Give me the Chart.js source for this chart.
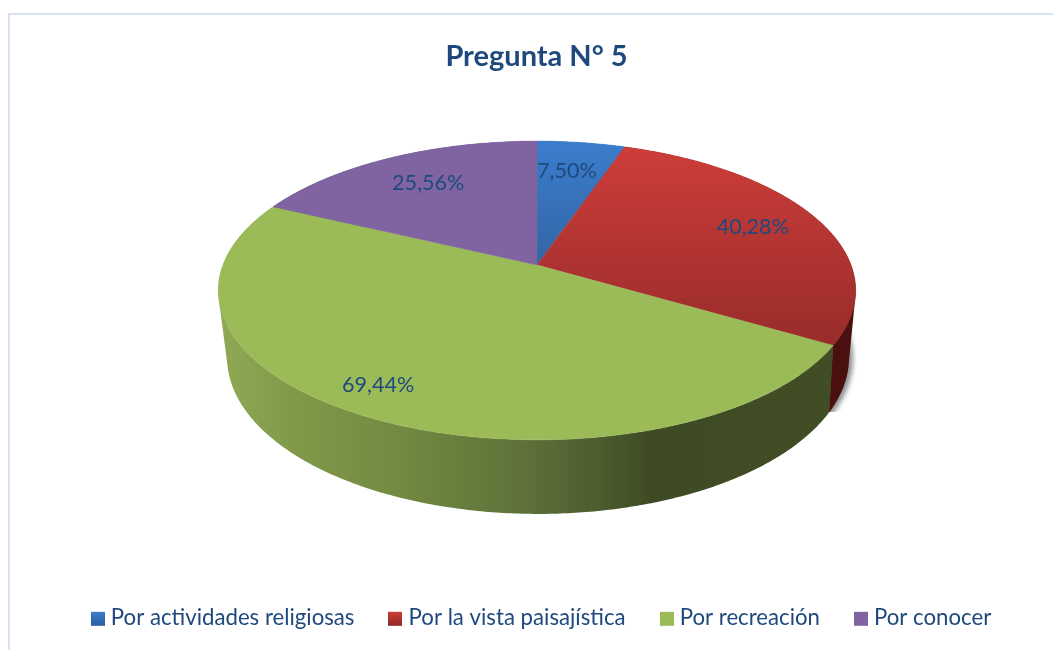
<!DOCTYPE html>
<html>
<head>
<meta charset="utf-8">
<style>
html,body{margin:0;padding:0;background:#fff;overflow:hidden}
#wrap{position:relative;width:1053px;height:650px}
</style>
<script src="https://cdn.jsdelivr.net/npm/chart.js@4"></script>
</head>
<body>
<div id="wrap"><canvas id="c" width="1053" height="650"></canvas></div>
<script>
const titleText = 'Pregunta N° 5';
const categories = ['Por actividades religiosas', 'Por la vista paisajística', 'Por recreación', 'Por conocer'];
const values = [7.50, 40.28, 69.44, 25.56];
const valueLabels = ['7,50%', '40,28%', '69,44%', '25,56%'];

const FONT = 'Lato, Carlito, sans-serif';
const INK = '#1f497d';
const labelRadius = [0.74, 0.77, 0.85, 0.73];
const labelTurn = [-0.02, -0.01, 0.06, 0.01];
const LEGEND_PAD = 39, LEGEND_FONT = 22.2;

// perspective view of the disc
const topDisc = {x: 537, y: 265, w: 314, h: 145, k: 0.1705};
const baseDisc = {x: 538, y: 327.5, w: 305.3, h: 151, k: 0.19};
function project(d, a, r) {
  const u = Math.cos(a) * r, v = -Math.sin(a) * r, f = 1 + d.k * v;
  return [d.x + d.w * u / f, d.y - d.h * v / f];
}
function linear(ctx, x0, y0, x1, y1, stops) {
  const g = ctx.createLinearGradient(x0, y0, x1, y1);
  stops.forEach(s => g.addColorStop(s[0], s[1]));
  return g;
}
const faceStops = [
  [[0, '#3b7dcd'], [1, '#3365a4']],
  [[0, '#cd3d39'], [1, '#982c2a']],
  [[0, '#9bbb59'], [1, '#9bbb59']],
  [[0, '#8064a2'], [1, '#8064a2']]
];
const wallStops = [
  [[0, '#2c4f80'], [1, '#24426c']],
  [[0, '#4a1212'], [1, '#4a1010']],
  [[0, '#8fa955'], [0.13, '#7f9848'], [0.28, '#728a42'], [0.47, '#5f7339'], [0.6, '#4c5c2e'], [0.68, '#3e4a24'], [1, '#414e25']],
  [[0, '#54406c'], [1, '#54406c']]
];
const legendStops = [
  [[0, '#3b7dcd'], [1, '#2c5f9e']],
  [[0, '#cd3d39'], [1, '#92292a']],
  [[0, '#9bbb59'], [1, '#9bbb59']],
  [[0, '#8064a2'], [1, '#8064a2']]
];
function swatch(stops) {
  const cv = document.createElement('canvas');
  cv.width = 14; cv.height = 19;
  const c = cv.getContext('2d');
  c.fillStyle = linear(c, 0, 3, 0, 17, stops);
  c.fillRect(0, 3, 14, 14);
  return cv;
}

const perspectivePie = {
  id: 'perspectivePie',
  afterLayout(chart) {
    chart.legend.left += 7; chart.legend.right += 7;
    chart.legend.top = 607.2 - LEGEND_PAD; chart.legend.bottom = 650;
  },
  beforeDraw(chart) {
    const ctx = chart.ctx;
    ctx.save();
    ctx.fillStyle = '#ffffff';
    ctx.fillRect(0, 0, chart.width, chart.height);
    ctx.fillStyle = '#d8e3f2';
    ctx.fillRect(8, 13, chart.width - 8, 2);
    ctx.fillRect(8, 13, 2, chart.height - 13);
    ctx.restore();
  },
  beforeDatasetDraw(chart, args) {
    const ctx = chart.ctx, arcs = args.meta.data;
    ctx.save();
    // drop shadow at the right side
    ctx.save();
    ctx.beginPath(); ctx.rect(800, 300, 80, 112); ctx.clip();
    ctx.shadowColor = 'rgba(0,0,0,0.45)';
    ctx.shadowBlur = 5; ctx.shadowOffsetX = 4; ctx.shadowOffsetY = 1;
    ctx.fillStyle = '#555';
    ctx.beginPath();
    for (let i = 0; i <= 360; i += 2) {
      const p = project(baseDisc, i * Math.PI / 180, 1);
      i ? ctx.lineTo(p[0], p[1]) : ctx.moveTo(p[0], p[1]);
    }
    ctx.closePath(); ctx.fill();
    ctx.restore();
    // outer wall: one path per slice, quads wound the same way
    arcs.forEach((arc, i) => {
      ctx.fillStyle = linear(ctx, 218, 0, 856, 0, wallStops[i]);
      const step = 0.01, end = arc.endAngle + 0.002;
      ctx.beginPath();
      for (let a = arc.startAngle; a < end; a += step) {
        const b = Math.min(a + step, end);
        let p = [project(topDisc, a, 1), project(topDisc, b, 1), project(baseDisc, b, 1), project(baseDisc, a, 1)];
        let area = 0;
        p.forEach((q, n) => { const r = p[(n + 1) % 4]; area += q[0] * r[1] - r[0] * q[1]; });
        if (area < 0) p = p.reverse();
        p.forEach((q, n) => n ? ctx.lineTo(q[0], q[1]) : ctx.moveTo(q[0], q[1]));
        ctx.closePath();
      }
      ctx.fill('nonzero');
    });
    // top face
    arcs.forEach((arc, i) => {
      const pts = [];
      for (let a = arc.startAngle; a < arc.endAngle; a += 0.01) pts.push(project(topDisc, a, 1));
      pts.push(project(topDisc, arc.endAngle, 1));
      const ys = pts.map(p => p[1]);
      const g = linear(ctx, 0, Math.min(...ys, topDisc.y), 0, Math.max(...ys, topDisc.y), faceStops[i]);
      ctx.fillStyle = g; ctx.strokeStyle = g; ctx.lineWidth = 0.5;
      ctx.beginPath();
      ctx.moveTo(topDisc.x, topDisc.y);
      pts.forEach(p => ctx.lineTo(p[0], p[1]));
      ctx.closePath(); ctx.fill(); ctx.stroke();
    });
    // value labels
    ctx.fillStyle = INK;
    ctx.font = '21.6px ' + FONT;
    ctx.textAlign = 'center'; ctx.textBaseline = 'middle';
    arcs.forEach((arc, i) => {
      const mid = (arc.startAngle + arc.endAngle) / 2 + labelTurn[i];
      const p = project(topDisc, mid, labelRadius[i]);
      ctx.fillText(valueLabels[i], p[0], p[1]);
    });
    ctx.restore();
    return false;
  }
};

new Chart(document.getElementById('c'), {
  type: 'pie',
  data: {
    labels: categories,
    datasets: [{data: values, backgroundColor: ['#3b7dcd', '#c0392f', '#9bbb59', '#8064a2'], borderWidth: 0}]
  },
  options: {
    responsive: false,
    animation: false,
    layout: {padding: {left: 20, right: 0, top: 0, bottom: 0}},
    plugins: {
      tooltip: {enabled: false},
      title: {
        display: true, text: titleText, color: INK,
        font: {family: FONT, size: 29, weight: 'bold'},
        padding: {top: 39, bottom: 20}
      },
      legend: {
        position: 'bottom',
        labels: {
          color: INK,
          font: {family: FONT, size: LEGEND_FONT},
          usePointStyle: true,
          boxWidth: 4, boxHeight: 4, padding: LEGEND_PAD,
          generateLabels(chart) {
            const items = Chart.overrides.pie.plugins.legend.labels.generateLabels(chart);
            items.forEach((it, i) => {
              it.pointStyle = swatch(legendStops[i]);
              it.strokeStyle = 'rgba(0,0,0,0)'; it.lineWidth = 0;
            });
            return items;
          }
        }
      }
    }
  },
  plugins: [perspectivePie]
});
</script>
</body>
</html>
